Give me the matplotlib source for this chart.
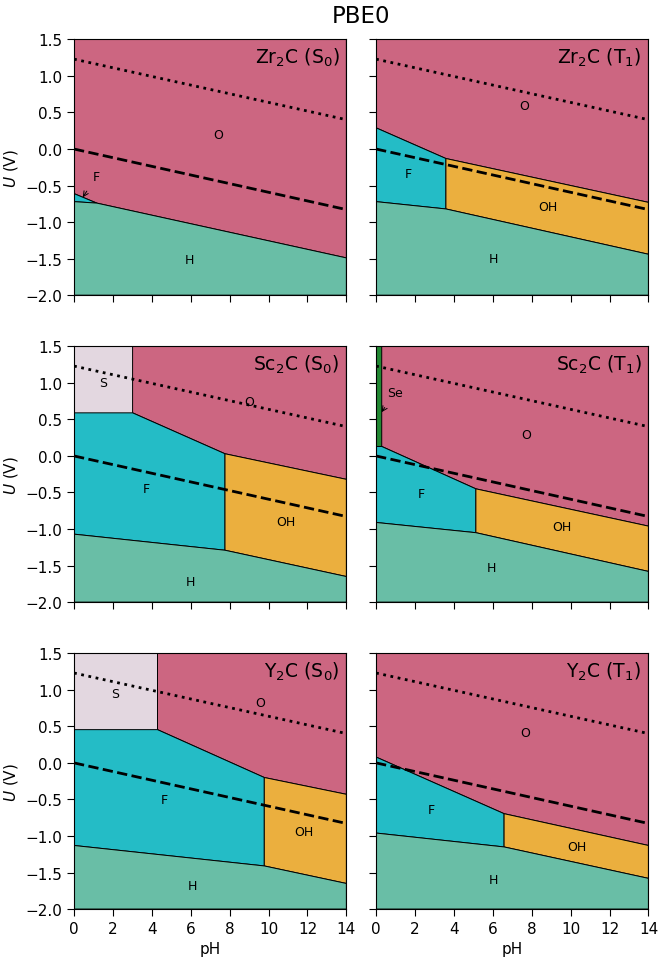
import matplotlib
matplotlib.use("Agg")
import matplotlib.pyplot as plt
import numpy as np

# colours of the surface terminations
colors = {"O": "#cc6681", "F": "#24bcc6", "H": "#69bea6", "OH": "#ebaf3e",
          "S": "#e3d7e0", "Se": "#228833"}

ph_max = 14
u_min, u_max = -2.0, 1.5

# stability regions: (termination, [(pH, U), ...])
zr2c_s0 = [
    ("O", [(0, 1.5), (14, 1.5), (14, -1.49), (1.17, -0.74), (0, -0.61)]),
    ("F", [(0, -0.61), (1.17, -0.74), (0, -0.72)]),
    ("H", [(0, -0.72), (1.17, -0.74), (14, -1.49), (14, -2.0), (0, -2.0)]),
]
zr2c_t1 = [
    ("O", [(0, 1.5), (14, 1.5), (14, -0.73), (3.59, -0.13), (0, 0.29)]),
    ("F", [(0, 0.29), (3.59, -0.13), (3.59, -0.82), (0, -0.72)]),
    ("OH", [(3.59, -0.13), (14, -0.73), (14, -1.44), (3.59, -0.82)]),
    ("H", [(0, -0.72), (3.59, -0.82), (14, -1.44), (14, -2.0), (0, -2.0)]),
]
sc2c_s0 = [
    ("S", [(0, 1.5), (3.01, 1.5), (3.01, 0.59), (0, 0.59)]),
    ("O", [(3.01, 1.5), (14, 1.5), (14, -0.32), (7.76, 0.03), (3.01, 0.59)]),
    ("F", [(0, 0.59), (3.01, 0.59), (7.76, 0.03), (7.76, -1.29), (0, -1.07)]),
    ("OH", [(7.76, 0.03), (14, -0.32), (14, -1.65), (7.76, -1.29)]),
    ("H", [(0, -1.07), (7.76, -1.29), (14, -1.65), (14, -2.0), (0, -2.0)]),
]
sc2c_t1 = [
    ("Se", [(0, 1.5), (0.29, 1.5), (0.29, 0.13), (0, 0.13)]),
    ("O", [(0.29, 1.5), (14, 1.5), (14, -0.96), (5.13, -0.45), (0.29, 0.13)]),
    ("F", [(0, 0.13), (0.29, 0.13), (5.13, -0.45), (5.13, -1.05), (0, -0.91)]),
    ("OH", [(5.13, -0.45), (14, -0.96), (14, -1.58), (5.13, -1.05)]),
    ("H", [(0, -0.91), (5.13, -1.05), (14, -1.58), (14, -2.0), (0, -2.0)]),
]
y2c_s0 = [
    ("S", [(0, 1.5), (4.29, 1.5), (4.29, 0.455), (0, 0.455)]),
    ("O", [(4.29, 1.5), (14, 1.5), (14, -0.43), (9.78, -0.2), (4.29, 0.455)]),
    ("F", [(0, 0.455), (4.29, 0.455), (9.78, -0.2), (9.78, -1.41), (0, -1.13)]),
    ("OH", [(9.78, -0.2), (14, -0.43), (14, -1.65), (9.78, -1.41)]),
    ("H", [(0, -1.13), (9.78, -1.41), (14, -1.65), (14, -2.0), (0, -2.0)]),
]
y2c_t1 = [
    ("O", [(0, 1.5), (14, 1.5), (14, -1.13), (6.58, -0.695), (0, 0.08)]),
    ("F", [(0, 0.08), (6.58, -0.695), (6.58, -1.15), (0, -0.96)]),
    ("OH", [(6.58, -0.695), (14, -1.13), (14, -1.58), (6.58, -1.15)]),
    ("H", [(0, -0.96), (6.58, -1.15), (14, -1.58), (14, -2.0), (0, -2.0)]),
]

# region labels: (text, pH, U)
labels_zr2c_s0 = [("O", 7.4, 0.2), ("H", 5.94, -1.51)]
labels_zr2c_t1 = [("O", 7.62, 0.59), ("F", 1.66, -0.33), ("OH", 8.83, -0.78), ("H", 6.05, -1.5)]
labels_sc2c_s0 = [("S", 1.51, 1.0), ("O", 9.0, 0.75), ("F", 3.7, -0.45), ("OH", 10.9, -0.9), ("H", 5.99, -1.72)]
labels_sc2c_t1 = [("O", 7.73, 0.29), ("F", 2.3, -0.51), ("OH", 9.54, -0.97), ("H", 5.95, -1.53)]
labels_y2c_s0 = [("S", 2.12, 0.95), ("O", 9.57, 0.83), ("F", 4.65, -0.5), ("OH", 11.84, -0.94), ("H", 6.08, -1.68)]
labels_y2c_t1 = [("O", 7.64, 0.41), ("F", 2.83, -0.64), ("OH", 10.3, -1.14), ("H", 6.03, -1.59)]

# arrowed labels for tiny regions: (text, text pos, arrow tip)
arrows_zr2c_s0 = [("F", (1.17, -0.37), (0.45, -0.66))]
arrows_sc2c_t1 = [("Se", (0.95, 0.87), (0.29, 0.6))]

titles = ["Zr$_2$C (S$_0$)", "Zr$_2$C (T$_1$)",
          "Sc$_2$C (S$_0$)", "Sc$_2$C (T$_1$)",
          "Y$_2$C (S$_0$)", "Y$_2$C (T$_1$)"]
panels = [zr2c_s0, zr2c_t1, sc2c_s0, sc2c_t1, y2c_s0, y2c_t1]
panel_labels = [labels_zr2c_s0, labels_zr2c_t1, labels_sc2c_s0,
                labels_sc2c_t1, labels_y2c_s0, labels_y2c_t1]
panel_arrows = [arrows_zr2c_s0, [], [], arrows_sc2c_t1, [], []]

# water stability lines
ph = np.array([0, ph_max])
u_o2 = 1.23 - 0.0592 * ph
u_h2 = -0.0592 * ph

fig, axes = plt.subplots(3, 2, figsize=(6.61, 9.62), dpi=100, sharex=True, sharey=True)
fig.subplots_adjust(left=0.112, right=0.981, top=0.958, bottom=0.054, wspace=0.109, hspace=0.2)

for i, ax in enumerate(axes.flat):
    for name, pts in panels[i]:
        pts = np.array(pts)
        ax.fill(pts[:, 0], pts[:, 1], facecolor=colors[name], edgecolor="black", lw=0.7)
    for txt, x, y in panel_labels[i]:
        ax.text(x, y, txt, ha="center", va="center", fontsize=9)
    for txt, xytext, xy in panel_arrows[i]:
        ax.annotate(txt, xy=xy, xytext=xytext, ha="center", va="center", fontsize=9,
                    arrowprops=dict(arrowstyle="->", lw=0.7, shrinkA=5, shrinkB=0))
    ax.plot(ph, u_o2, color="black", ls=":", lw=2)
    ax.plot(ph, u_h2, color="black", ls="--", lw=2)
    ax.text(0.975, 0.975, titles[i], transform=ax.transAxes, ha="right", va="top", fontsize=13.5)
    ax.set_xlim(0, ph_max)
    ax.set_ylim(u_min, u_max)
    ax.set_xticks(np.arange(0, 15, 2))
    ax.set_yticks(np.arange(-2.0, 1.6, 0.5))
    ax.tick_params(labelsize=11, length=5)
    if i % 2 == 0:
        ax.set_ylabel("$U$ (V)", fontsize=11)
    if i >= 4:
        ax.set_xlabel("pH", fontsize=11)

fig.suptitle("PBE0", x=0.546, y=0.995, fontsize=16.5)
fig.savefig("out.png", dpi=100)
